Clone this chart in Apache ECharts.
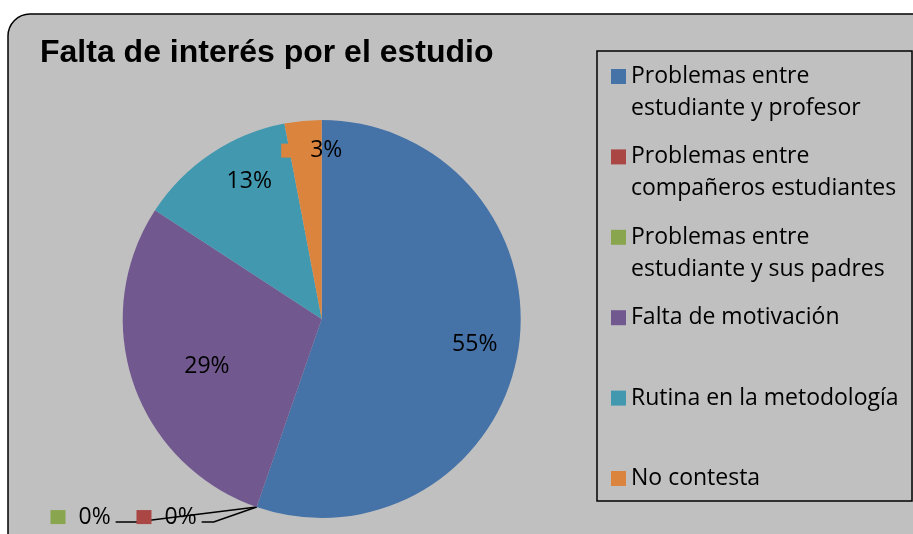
<!DOCTYPE html>
<html>
<head>
<meta charset="utf-8">
<script src="https://cdn.jsdelivr.net/npm/echarts@6/dist/echarts.min.js"></script>
<style>
  html, body { margin: 0; padding: 0; background: #fff; overflow: hidden; }
  #main { width: 913px; height: 534px; }
</style>
</head>
<body>
<div id="main"></div>
<script>
const titleText = 'Falta de interés por el estudio';
const categories = [
  'Problemas entre\nestudiante y profesor',
  'Problemas entre\ncompañeros estudiantes',
  'Problemas entre\nestudiante y sus padres',
  'Falta de motivación',
  'Rutina en la metodología',
  'No contesta'
];
// shares (labels show them rounded)
const values = [55.3, 0, 0, 28.9, 12.8, 3.0];
const colors = ['#4572A7', '#AA4643', '#89A54E', '#71588F', '#4198AF', '#DB843D'];

const FONT = 'Open Sans';
const FONT_SIZE = 23;
const CENTER = [321.7, 319];
const RADIUS = 199;
// inside labels: [share of radius, nudge x, nudge y]
const insidePlace = { 0: [0.78, 0, 0], 3: [0.62, 2, 7], 4: [0.78, 14, -9], 5: [0.85, 6, 0] };
// zero labels, relative to the point on the rim: label right edge, line elbow, line end
const zeroPlace = {
  1: { right: -60, elbow: -43, end: -55 },
  2: { right: -146, elbow: -121, end: -141 }
};

const rich = {
  t: { fontFamily: FONT, fontSize: FONT_SIZE, color: '#000' },
  tz: { fontFamily: FONT, fontSize: FONT_SIZE, color: '#000', padding: [0, 0, 0, 13] },
  ts: { fontFamily: FONT, fontSize: FONT_SIZE, color: '#000', padding: [0, 0, 0, 18] }
};
colors.forEach(function (c, i) {
  rich['s' + i] = { width: i === 5 ? 11 : 15, height: 14, backgroundColor: c };
});

const chart = echarts.init(document.getElementById('main'));

chart.setOption({
  animation: false,
  color: colors,
  graphic: [
    {
      type: 'rect', z: -10,
      shape: { x: 8, y: 14, width: 1000, height: 600, r: [22, 0, 0, 0] },
      style: { fill: '#c0c0c0', stroke: '#000', lineWidth: 1.5 }
    },
    {
      type: 'rect', z: 1,
      shape: { x: 597, y: 51, width: 315, height: 450 },
      style: { fill: 'none', stroke: '#000', lineWidth: 1.5 }
    }
  ],
  title: {
    text: titleText,
    left: 35,
    top: 32,
    textStyle: { fontFamily: 'Liberation Sans', fontWeight: 'bold', fontSize: 32, color: '#000' }
  },
  legend: {
    orient: 'vertical',
    left: 611,
    top: 69 - 40.5,
    padding: 0,
    itemWidth: 15,
    itemHeight: 15,
    itemGap: -15.6,
    icon: 'rect',
    data: categories,
    formatter: function (name) {
      return name.indexOf('\n') >= 0 ? '\n' + name : '\n' + name + '\n';
    },
    textStyle: { fontFamily: FONT, fontSize: FONT_SIZE, lineHeight: 32, color: '#000' }
  },
  series: [{
    type: 'pie',
    center: CENTER,
    radius: RADIUS,
    startAngle: 90,
    clockwise: true,
    avoidLabelOverlap: false,
    itemStyle: { borderWidth: 0 },
    label: {
      show: true,
      position: 'inside',
      fontFamily: FONT,
      fontSize: FONT_SIZE,
      color: '#000',
      rich: rich,
      formatter: function (p) {
        const txt = Math.round(p.percent) + '%';
        if (p.value === 0) return '{s' + p.dataIndex + '|}{tz|' + txt + '}';
        if (p.dataIndex === 5) return '{s5|}{ts|' + txt + '}';
        return '{t|' + txt + '}';
      }
    },
    labelLine: { show: false, length: 10, length2: 10, lineStyle: { color: '#000', width: 1.5 } },
    labelLayout: function (p) {
      const i = p.dataIndex;
      const r = p.labelRect;
      if (values[i] === 0) {
        const a = p.labelLinePoints ? p.labelLinePoints[0] : [CENTER[0], CENTER[1] + RADIUS];
        const z = zeroPlace[i];
        return {
          x: a[0] + z.right,
          y: a[1] + 10,
          align: 'right',
          verticalAlign: 'middle',
          labelLinePoints: [
            [a[0], a[1]],
            [a[0] + z.elbow, a[1] + 15],
            [a[0] + z.end, a[1] + 15]
          ]
        };
      }
      const cx = r.x + r.width / 2;
      const cy = r.y + r.height / 2;
      const dx = cx - CENTER[0];
      const dy = cy - CENTER[1];
      const len = Math.sqrt(dx * dx + dy * dy) || 1;
      const pl = insidePlace[i];
      return {
        x: CENTER[0] + dx / len * pl[0] * RADIUS + pl[1],
        y: CENTER[1] + dy / len * pl[0] * RADIUS + pl[2],
        align: 'center',
        verticalAlign: 'middle'
      };
    },
    data: categories.map(function (name, i) {
      const zero = values[i] === 0;
      return {
        name: name,
        value: values[i],
        label: zero ? { position: 'outside' } : {},
        labelLine: { show: zero }
      };
    })
  }]
});
</script>
</body>
</html>
